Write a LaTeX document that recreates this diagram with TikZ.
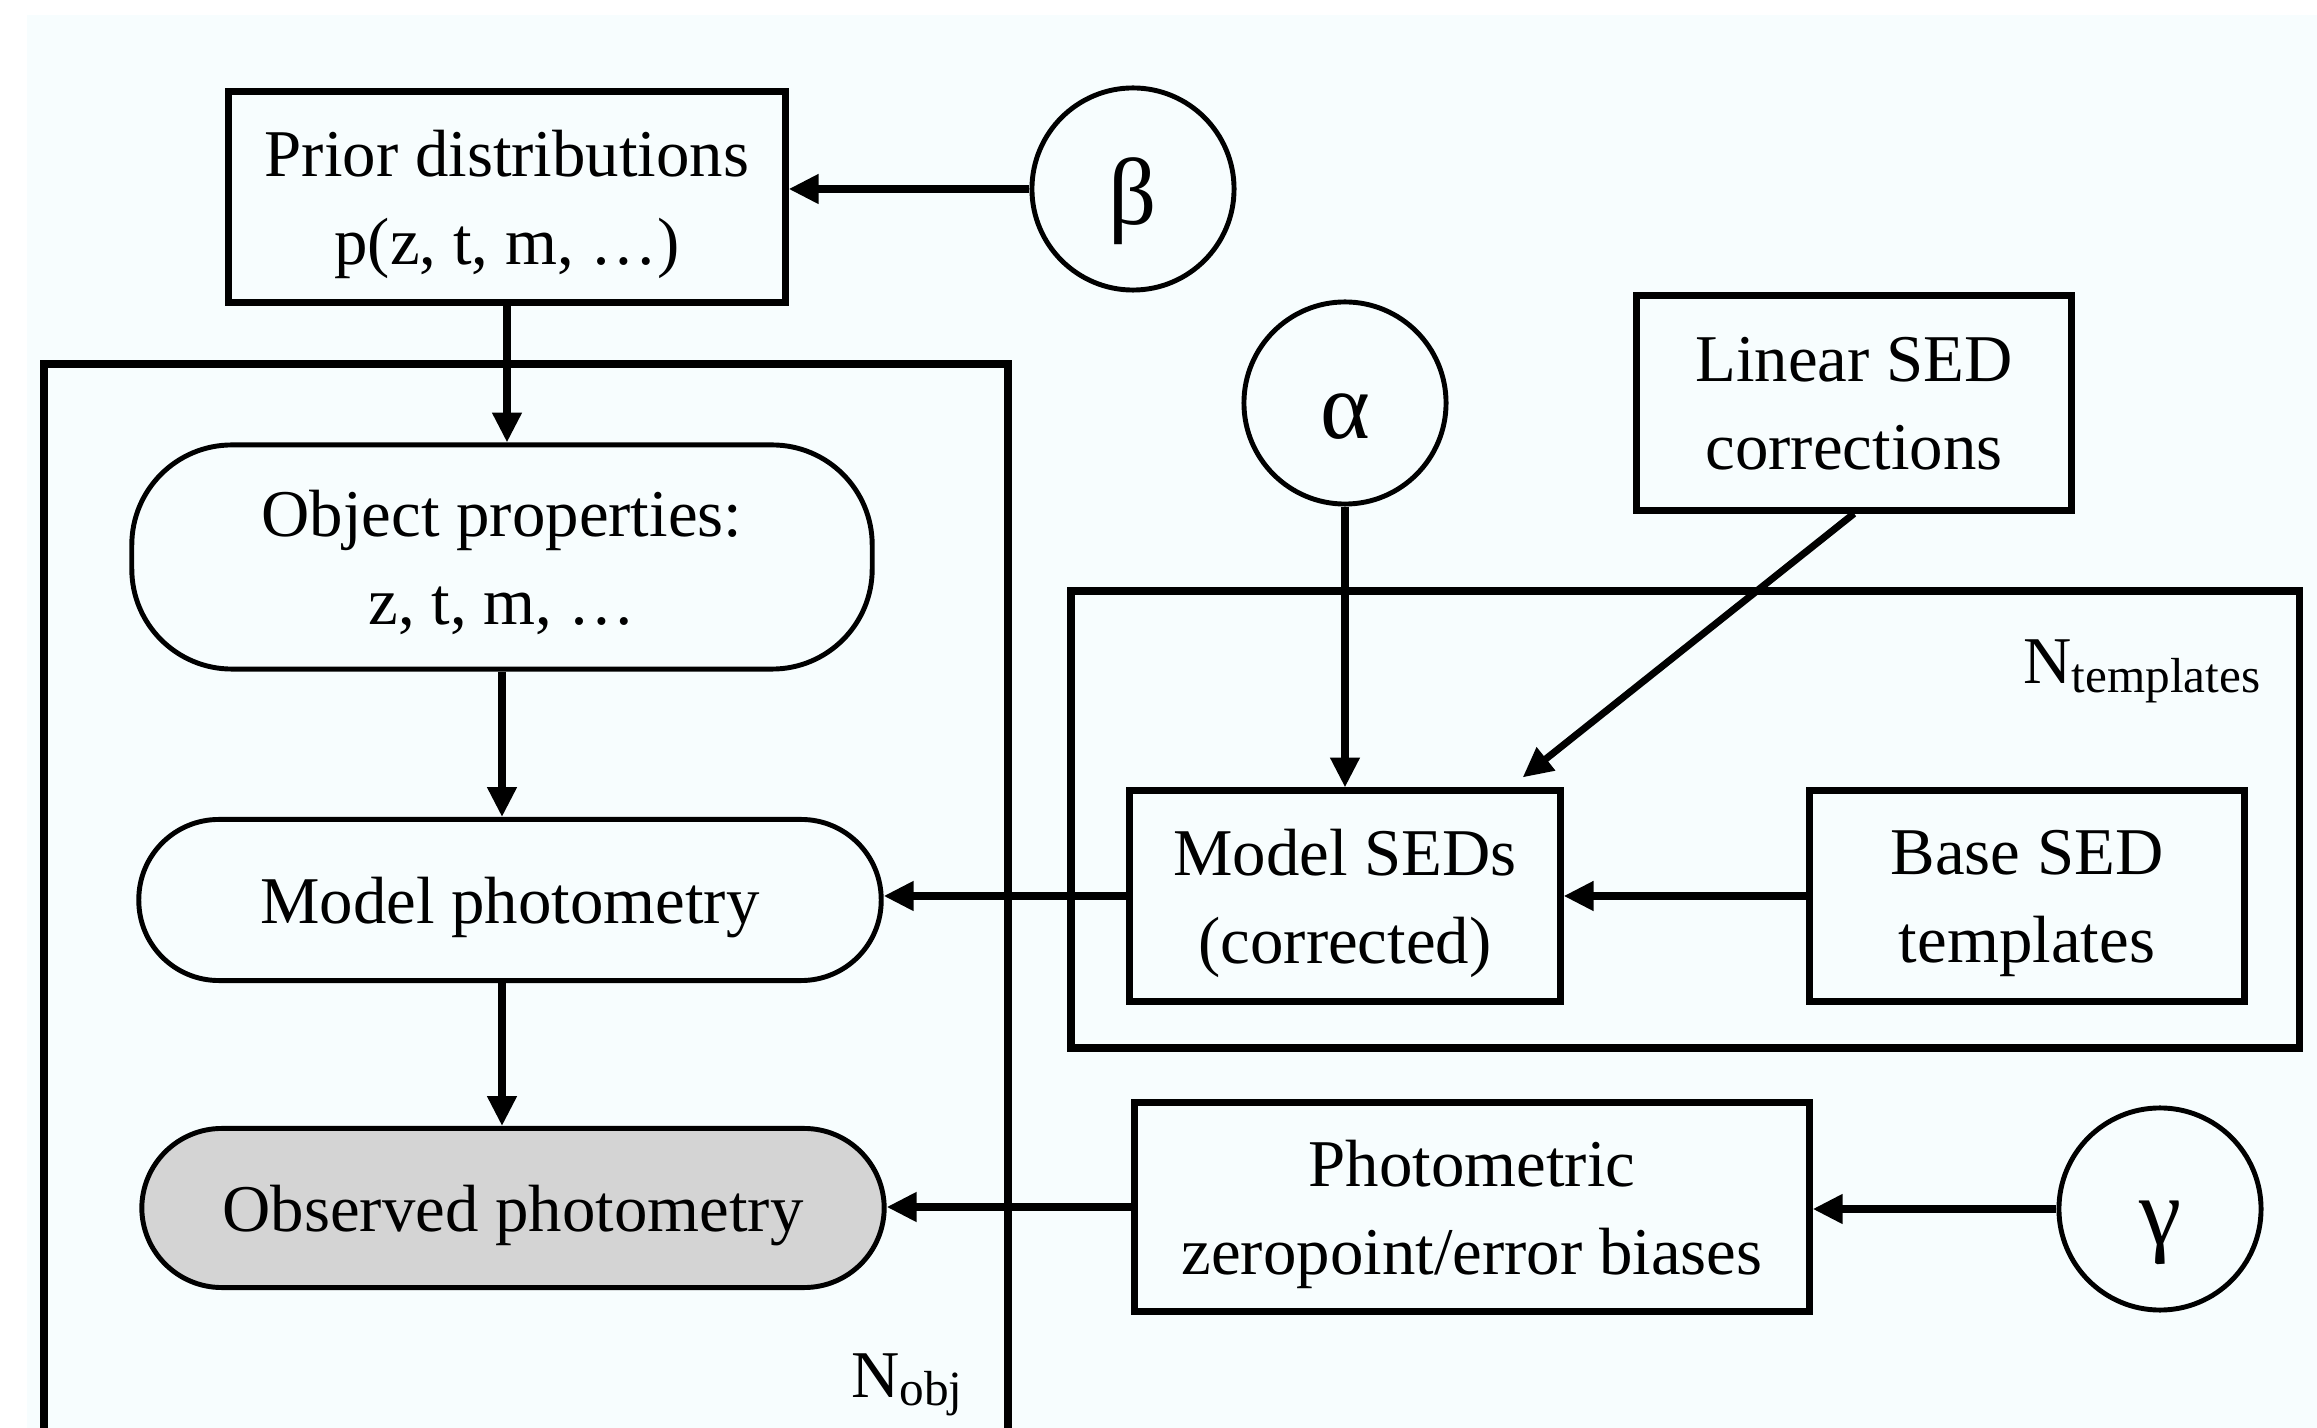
\documentclass[tikz,border=0pt]{standalone}
\usepackage{fontspec}
\setmainfont{Liberation Serif}
\usepackage{xcolor}
\usepackage{tikz}
\usetikzlibrary{arrows.meta,calc}

\definecolor{paper}{HTML}{F7FDFE}
\definecolor{observed}{HTML}{D4D4D4}
\newcommand{\platelab}[1]{N\raisebox{-2.3pt}{\fontsize{14}{14}\selectfont #1}}

\begin{document}
\begin{tikzpicture}[x=0.01cm,y=-0.01cm,
    font=\fontsize{19}{25}\selectfont,
    box/.style={draw,line width=2pt,align=center,inner sep=0pt,text depth=-2pt},
    blob/.style={draw,line width=1.4pt,align=center,inner sep=0pt,text depth=-2pt,rounded corners=0.8cm},
    hyper/.style={draw,circle,line width=1.4pt,minimum size=2.02cm,inner sep=0pt,text height=20pt,text depth=0pt,font=\fontsize{27}{27}\selectfont},
    plate/.style={line width=2pt},
    link/.style={line width=2pt,-{Triangle[length=8.5pt,width=8pt]}}]

\useasboundingbox (0,0) rectangle (2317,1428);
\fill[paper] (27,15) rectangle (2317,1428);

\draw[plate] (44,1440) -- (44,364) -- (1008,364) -- (1008,1440);
\draw[plate] (1071,591) rectangle (2299,1048);
\node[anchor=base east,inner sep=0pt] (nobj) at (963,1397) {\platelab{obj}};
\node[anchor=base east,inner sep=0pt] (ntpl) at (2261,684) {\platelab{templates}};

\node[box,minimum width=5.56cm,minimum height=2.1cm] (prior) at (507,197) {Prior distributions\\p(z, t, m, …)};
\node[blob,rounded corners=1cm,minimum width=7.4cm,minimum height=2.24cm] (objprop) at (502,557) {Object properties:\\z, t, m, …};
\node[blob,minimum width=7.42cm,minimum height=1.61cm] (modphot) at (510,900) {Model photometry};
\node[blob,fill=observed,minimum width=7.42cm,minimum height=1.59cm] (obsphot) at (513,1208) {Observed photometry};
\node[box,minimum width=4.3cm,minimum height=2.1cm] (modsed) at (1345,896) {Model SEDs\\(corrected)};
\node[box,minimum width=4.35cm,minimum height=2.1cm] (basesed) at (2027,896) {Base SED\\templates};
\node[box,minimum width=4.35cm,minimum height=2.14cm] (linsed) at (1854,403) {Linear SED\\corrections};
\node[box,minimum width=6.74cm,minimum height=2.09cm] (zpbias) at (1472,1207) {Photometric\\zeropoint/error biases};
\node[hyper] (beta) at (1133,189) {β};
\node[hyper] (alpha) at (1345,403) {α};
\node[hyper] (gamma) at (2160,1209) {γ};

\draw[link] (beta) -- (beta -| prior.east);
\draw[link] (prior.south) -- (prior.south |- objprop.north);
\draw[link] (objprop.south) -- (objprop.south |- modphot.north);
\draw[link] (objprop.south |- modphot.south) -- (objprop.south |- obsphot.north);
\draw[link] (modsed.west) -- (modsed.west -| modphot.east);
\draw[link] (basesed) -- (modsed);
\draw[link] (alpha) -- (modsed);
\coordinate (lintip) at ($(modsed.north east)+(-41,-10)$);
\draw[link] (linsed.south) -- (lintip);
\draw[link] (gamma.west) -- (gamma.west -| zpbias.east);
\draw[link] (zpbias.west) -- (zpbias.west -| obsphot.east);

\end{tikzpicture}
\end{document}
